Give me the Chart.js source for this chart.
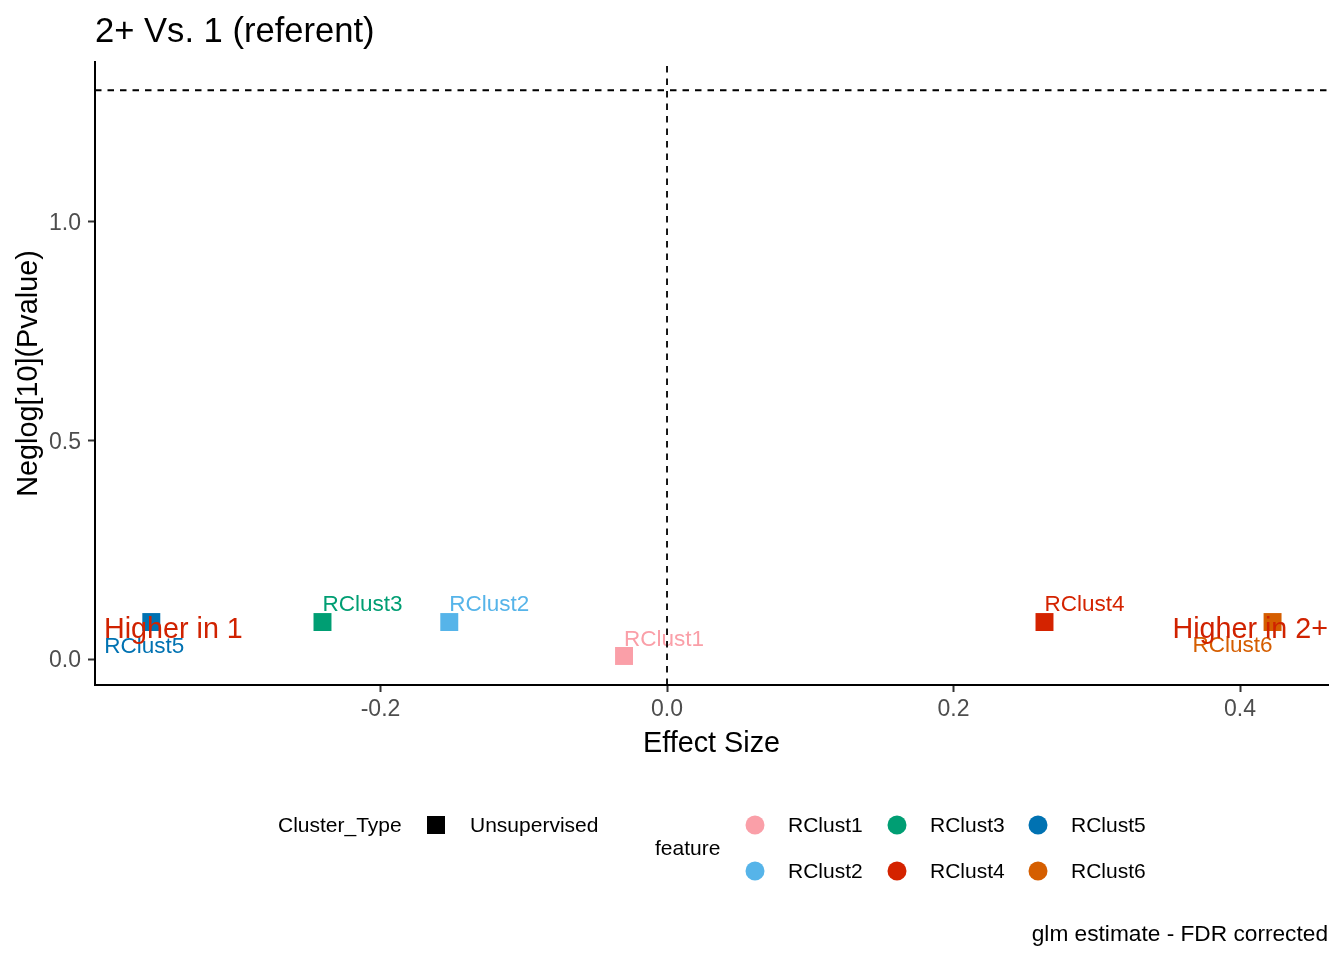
<!DOCTYPE html>
<html>
<head>
<meta charset="utf-8">
<script src="https://cdn.jsdelivr.net/npm/chart.js@4.4.1/dist/chart.umd.min.js"></script>
<style>
  html, body { margin: 0; padding: 0; background: #ffffff; }
  #wrap { width: 1344px; height: 960px; position: relative; }
  canvas { display: block; }
</style>
</head>
<body>
<div id="wrap"><canvas id="c" width="1344" height="960"></canvas></div>
<script>
// ---------------- data ----------------
const features = ['RClust1', 'RClust2', 'RClust3', 'RClust4', 'RClust5', 'RClust6'];
const effectSize = [-0.030, -0.152, -0.2405, 0.2635, -0.360, 0.4227];
const neglogP = [0.007, 0.0846, 0.0846, 0.0846, 0.0846, 0.0846];
const featureColors = ['#FA9FA8', '#56B4E9', '#009E73', '#D42300', '#0072B2', '#D55E00'];
const clusterTypes = ['Unsupervised'];
const xTickValues = [-0.2, 0.0, 0.2, 0.4];
const yTickValues = [0.0, 0.5, 1.0];
const xRange = [-0.3993, 0.4614];
const yRange = [-0.0594, 1.3657];
const fdrAlpha = 0.05;
const pThresholdLine = -Math.log10(fdrAlpha);
const effectNull = 0;
const annotationTexts = ['Higher in 1', 'Higher in 2+'];
const annotationX = [-0.393, xRange[1]];
const annotationY = [0.049, 0.049];
const titleText = '2+ Vs. 1 (referent)';
const xTitle = 'Effect Size';
const yTitle = 'Neglog[10](Pvalue)';
const captionText = 'glm estimate - FDR corrected';

// ---------------- styling (not data) ----------------
const FONT = '"Liberation Sans", Arial, Helvetica, sans-serif';
const labelOffsets = { // pixel offsets for repelled labels [dx, dy(baseline)]
  RClust1: [0, -10], RClust2: [0, -11], RClust3: [0, -11],
  RClust4: [0, -11], RClust5: [-47, 31], RClust6: [-80, 30]
};
const annotationAlign = ['left', 'right'];
const annotationColor = '#D02200';

// ---------------- datasets ----------------
const datasets = [];
datasets.push({
  label: 'threshold', data: [{x: xRange[0], y: pThresholdLine}, {x: xRange[1], y: pThresholdLine}],
  showLine: true, borderColor: '#000', borderWidth: 1.8, borderDash: [6.5, 6],
  pointRadius: 0, order: 0
});
datasets.push({
  label: 'null', data: [{x: effectNull, y: yRange[0]}, {x: effectNull, y: yRange[1]}],
  showLine: true, borderColor: '#000', borderWidth: 1.8, borderDash: [6.5, 6],
  pointRadius: 0, order: 0
});
features.forEach((f, i) => {
  datasets.push({
    label: f, data: [{x: effectSize[i], y: neglogP[i]}],
    showLine: false, pointStyle: 'rect', pointRadius: 12.7, pointHoverRadius: 12.7,
    backgroundColor: featureColors[i], borderWidth: 0, pointBorderWidth: 0,
    order: 1
  });
});

const labelPlugin = {
  id: 'pointLabels',
  beforeDatasetsDraw(chart) {
    const ctx = chart.ctx;
    ctx.save();
    ctx.font = '22.5px ' + FONT;
    ctx.textAlign = 'left';
    ctx.textBaseline = 'alphabetic';
    chart.data.datasets.forEach((ds, di) => {
      const idx = features.indexOf(ds.label);
      if (idx < 0) return;
      const el = chart.getDatasetMeta(di).data[0];
      const off = labelOffsets[ds.label];
      ctx.fillStyle = featureColors[idx];
      ctx.fillText(ds.label, el.x + off[0], el.y + off[1]);
    });
    ctx.restore();
  },
  afterDatasetsDraw(chart) {
    const ctx = chart.ctx;
    const xs = chart.scales.x, ys = chart.scales.y;
    ctx.save();
    ctx.font = '28.7px ' + FONT;
    ctx.fillStyle = annotationColor;
    ctx.textBaseline = 'alphabetic';
    annotationTexts.forEach((t, i) => {
      ctx.textAlign = annotationAlign[i];
      ctx.fillText(t, xs.getPixelForValue(annotationX[i]), ys.getPixelForValue(annotationY[i]));
    });
    ctx.restore();
  },
  afterDraw(chart) {
    const ctx = chart.ctx;
    const ca = chart.chartArea;
    ctx.save();
    ctx.fillStyle = '#000';
    ctx.font = '34.6px ' + FONT;
    ctx.textAlign = 'left';
    ctx.textBaseline = 'alphabetic';
    ctx.fillText(titleText, ca.left, 42);
    ctx.font = '28.8px ' + FONT;
    ctx.textAlign = 'center';
    ctx.fillText(xTitle, (ca.left + ca.right) / 2, 752);
    ctx.save();
    ctx.translate(37, (ca.top + ca.bottom) / 2);
    ctx.rotate(-Math.PI / 2);
    ctx.textAlign = 'center';
    ctx.fillText(yTitle, 0, 0);
    ctx.restore();
    ctx.font = '21px ' + FONT;
    ctx.textAlign = 'left';
    ctx.textBaseline = 'middle';
    ctx.fillStyle = '#000';
    ctx.fillText('Cluster_Type', 278, 826);
    ctx.fillRect(427, 816, 18, 18);
    ctx.fillText(clusterTypes[0], 470, 826);
    ctx.fillText('feature', 655, 849);
    const colX = [755, 897, 1038];
    const rowY = [825, 871];
    features.forEach((f, i) => {
      const c = Math.floor(i / 2), r = i % 2;
      ctx.beginPath();
      ctx.arc(colX[c], rowY[r], 9.5, 0, Math.PI * 2);
      ctx.fillStyle = featureColors[i];
      ctx.fill();
      ctx.fillStyle = '#000';
      ctx.fillText(f, colX[c] + 33, rowY[r] + 1);
    });
    ctx.font = '22.7px ' + FONT;
    ctx.textAlign = 'right';
    ctx.textBaseline = 'alphabetic';
    ctx.fillText(captionText, ca.right, 941);
    ctx.restore();
  }
};

new Chart(document.getElementById('c'), {
  type: 'scatter',
  data: { datasets },
  options: {
    responsive: false,
    animation: false,
    devicePixelRatio: 1,
    layout: { padding: { left: 0, right: 16, top: 62, bottom: 0 } },
    plugins: { legend: { display: false }, tooltip: { enabled: false }, title: { display: false } },
    events: [],
    scales: {
      x: {
        type: 'linear', min: xRange[0], max: xRange[1],
        afterBuildTicks: (s) => { s.ticks = xTickValues.map(v => ({ value: v })); },
        afterFit: (s) => { s.height = 275; },
        ticks: {
          callback: (v) => Number(v).toFixed(1),
          font: { size: 23, family: FONT }, color: '#4D4D4D', padding: 4, maxRotation: 0, autoSkip: false
        },
        grid: { display: true, drawOnChartArea: false, drawTicks: true, tickLength: 7, tickColor: '#333333', tickWidth: 2 },
        border: { display: true, color: '#000', width: 2 }
      },
      y: {
        type: 'linear', min: yRange[0], max: yRange[1],
        afterBuildTicks: (s) => { s.ticks = yTickValues.map(v => ({ value: v })); },
        afterFit: (s) => { s.width = 95; },
        ticks: {
          callback: (v) => Number(v).toFixed(1),
          font: { size: 23, family: FONT }, color: '#4D4D4D', padding: 7, autoSkip: false, labelOffset: 2
        },
        grid: { display: true, drawOnChartArea: false, drawTicks: true, tickLength: 7, tickColor: '#333333', tickWidth: 2 },
        border: { display: true, color: '#000', width: 2 }
      }
    }
  },
  plugins: [labelPlugin]
});
</script>
</body>
</html>
